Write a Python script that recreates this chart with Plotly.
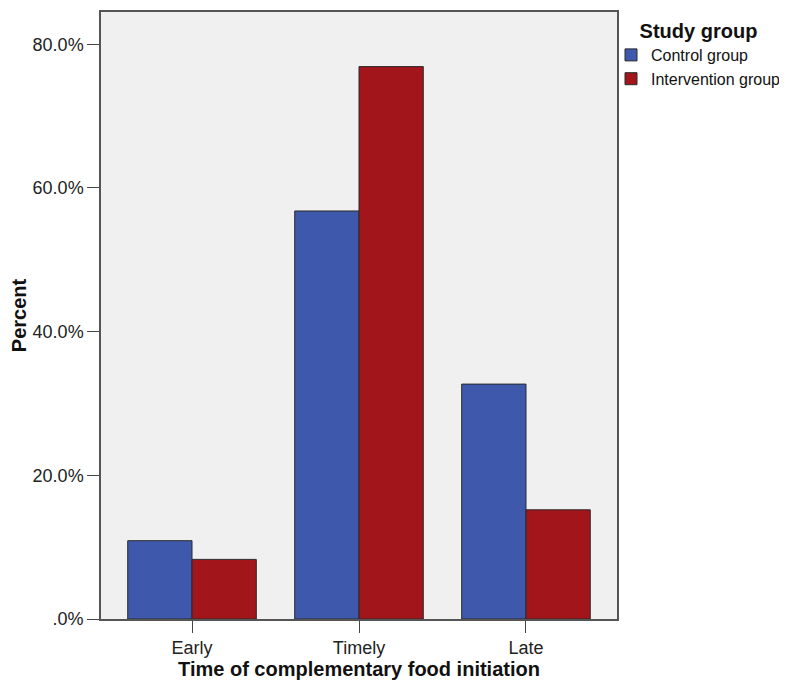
import plotly.graph_objects as go

categories = ["Early", "Timely", "Late"]
control_pct = [10.9, 56.8, 32.7]
intervention_pct = [8.3, 76.9, 15.2]
y_tick_vals = [0, 20, 40, 60, 80]
y_tick_text = [".0%", "20.0%", "40.0%", "60.0%", "80.0%"]

FONT = "Arial, Liberation Sans, sans-serif"

fig = go.Figure()
fig.add_trace(go.Bar(
    x=categories, y=control_pct, name="Control group",
    marker=dict(color="#3E58AB", line=dict(color="#2b2b2b", width=1)),
))
fig.add_trace(go.Bar(
    x=categories, y=intervention_pct, name="Intervention group",
    marker=dict(color="#A1151B", line=dict(color="#2b2b2b", width=1)),
))

fig.update_layout(
    width=787, height=682,
    margin=dict(l=93, r=178, t=2, b=71),
    paper_bgcolor="white",
    plot_bgcolor="#F0F0F0",
    barmode="group", bargap=0.23, bargroupgap=0,
    font=dict(family=FONT, size=18, color="#222222"),
    legend=dict(
        title=dict(text="<b>Study group</b>", font=dict(size=20, color="#111111"),
                   side="top center"),
        x=0.9884, xanchor="left", xref="paper",
        y=1.0, yanchor="top",
        font=dict(size=16, color="#111111"),
        itemwidth=30, tracegroupgap=2,
        bgcolor="rgba(0,0,0,0)",
    ),
    xaxis=dict(
        range=[-0.545, 2.545],
        showline=True, linecolor="#555555", linewidth=1.5, mirror=True,
        ticks="outside", ticklen=12, tickcolor="#444444", tickwidth=1,
        showgrid=False, zeroline=False,
        title=dict(text="<b>Time of complementary food initiation</b>",
                   font=dict(size=20, color="#111111"), standoff=3),
    ),
    yaxis=dict(
        range=[0, 84.5],
        tickvals=y_tick_vals, ticktext=y_tick_text,
        showline=True, linecolor="#555555", linewidth=1.5, mirror=True,
        ticks="outside", ticklen=12, tickcolor="#444444", tickwidth=1,
        showgrid=False, zeroline=False,
        title=dict(text="<b>Percent</b>", font=dict(size=20, color="#111111"), standoff=5),
    ),
)

fig.write_html("out.html")
